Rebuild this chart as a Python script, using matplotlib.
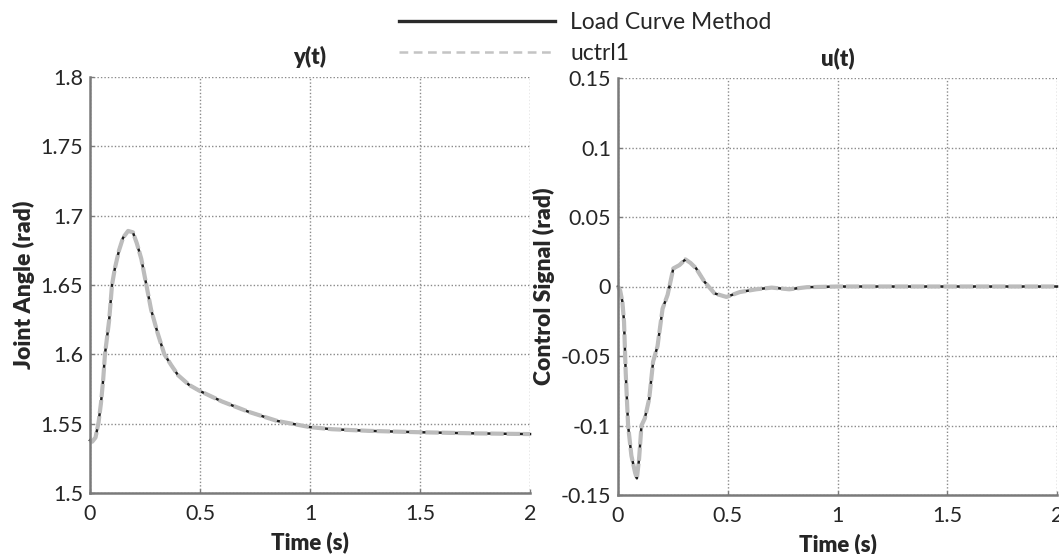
import matplotlib
matplotlib.use("Agg")
import matplotlib.pyplot as plt
from matplotlib.lines import Line2D

plt.rcParams['font.family'] = ['Lato', 'DejaVu Sans']

# ---- data ----
t_y = [0, 0.01, 0.025, 0.039, 0.05, 0.06, 0.068, 0.087, 0.1, 0.113, 0.132, 0.15,
       0.173, 0.195, 0.213, 0.233, 0.255, 0.278, 0.308, 0.338, 0.37, 0.4, 0.45,
       0.5, 0.6, 0.72, 0.85, 1.0, 1.1, 1.27, 1.5, 1.75, 2.0]
y_load = [1.538, 1.537, 1.540, 1.551, 1.565, 1.582, 1.600, 1.6245, 1.650, 1.662,
          1.675, 1.684, 1.689, 1.688, 1.680, 1.669, 1.651, 1.632, 1.615, 1.600,
          1.592, 1.585, 1.578, 1.5735, 1.566, 1.5586, 1.552, 1.5475, 1.546,
          1.5448, 1.5438, 1.543, 1.5425]
y_uctrl = list(y_load)

t_u = [0, 0.01, 0.02, 0.0275, 0.035, 0.046, 0.061, 0.078, 0.086, 0.096, 0.107,
       0.122, 0.142, 0.16, 0.18, 0.203, 0.226, 0.252, 0.28, 0.307, 0.33, 0.356,
       0.394, 0.44, 0.494, 0.555, 0.63, 0.7, 0.78, 0.86, 1.0, 2.0]
u_load = [0, -0.003, -0.011, -0.0255, -0.0616, -0.1, -0.1217, -0.134, -0.138,
          -0.124, -0.1, -0.095, -0.081, -0.054, -0.043, -0.016, -0.006, 0.013,
          0.0154, 0.0195, 0.017, 0.013, 0.0034, -0.005, -0.0075, -0.004, -0.002,
          -0.0008, -0.002, -0.0005, 0, 0]
u_uctrl = list(u_load)

x_ticks = [0, 0.5, 1, 1.5, 2]
x_ticklabels = ["0", "0.5", "1", "1.5", "2"]
y_ticks = [1.5, 1.55, 1.6, 1.65, 1.7, 1.75, 1.8]
y_ticklabels = ["1.5", "1.55", "1.6", "1.65", "1.7", "1.75", "1.8"]
u_ticks = [-0.15, -0.1, -0.05, 0, 0.05, 0.1, 0.15]
u_ticklabels = ["-0.15", "-0.1", "-0.05", "0", "0.05", "0.1", "0.15"]

series_labels = ["Load Curve Method", "uctrl1"]

# ---- figure ----
W, H = 1059, 554
fig = plt.figure(figsize=(W / 100, H / 100), dpi=100)

def frac_x(px):
    return px / W

def frac_y(py):
    return 1 - py / H

ax1 = fig.add_axes([frac_x(90), frac_y(493), (530 - 90) / W, (493 - 77) / H])
ax2 = fig.add_axes([frac_x(618), frac_y(495), (1057 - 618) / W, (495 - 78) / H])

black_c = "#1e1e1e"
gray_c = "#bcbcbc"
text_c = "#262626"
spine_c = "#7a7a7a"

def style(ax, xt, xtl, yt, ytl, ylim, title, ylabel):
    ax.set_xlim(0, 2)
    ax.set_ylim(*ylim)
    ax.set_xticks(xt)
    ax.set_xticklabels(xtl)
    ax.set_yticks(yt)
    ax.set_yticklabels(ytl)
    for s in ["top", "right"]:
        ax.spines[s].set_visible(False)
    for s in ["left", "bottom"]:
        ax.spines[s].set_color(spine_c)
        ax.spines[s].set_linewidth(1.8)
    ax.tick_params(direction="in", length=3, width=1, colors=spine_c,
                   labelcolor=text_c, labelsize=15.5)
    ax.tick_params(axis="x", pad=8)
    ax.tick_params(axis="y", pad=5)
    ax.grid(True, color="#8a8a8a", linestyle=(0, (1, 1.5)), linewidth=1.0)
    ax.set_axisbelow(True)
    ax.set_title(title, fontsize=16, fontweight="heavy", color=text_c, pad=9)
    ax.set_xlabel("Time (s)", fontsize=16, fontweight="heavy", color=text_c, labelpad=5)
    ax.set_ylabel(ylabel, fontsize=16.5, fontweight="heavy", color=text_c, labelpad=4)

style(ax1, x_ticks, x_ticklabels, y_ticks, y_ticklabels, (1.5, 1.8), "y(t)", "Joint Angle (rad)")
style(ax2, x_ticks, x_ticklabels, u_ticks, u_ticklabels, (-0.15, 0.15), "u(t)", "Control Signal (rad)")

ax1.plot(t_y, y_load, color=black_c, linewidth=1.8, label=series_labels[0], clip_on=False)
ax1.plot(t_y, y_uctrl, color=gray_c, linewidth=3.0, dashes=(3.2, 0.7), label=series_labels[1], clip_on=False)
ax2.plot(t_u, u_load, color=black_c, linewidth=1.8, clip_on=False)
ax2.plot(t_u, u_uctrl, color=gray_c, linewidth=3.0, dashes=(3.2, 0.7), clip_on=False)

h1 = Line2D([], [], color="#2a2a2a", linewidth=2.4)
h2 = Line2D([], [], color="#c4c4c4", linewidth=1.8, dashes=(3.5, 2.2))
fig.legend([h1, h2], series_labels, loc="upper left",
           bbox_to_anchor=(frac_x(388), frac_y(1)), frameon=False,
           borderpad=0, handlelength=6.8, handletextpad=0.65, labelspacing=0.42,
           prop={"size": 16.5}, labelcolor=text_c)

fig.savefig("out.png", dpi=100)
